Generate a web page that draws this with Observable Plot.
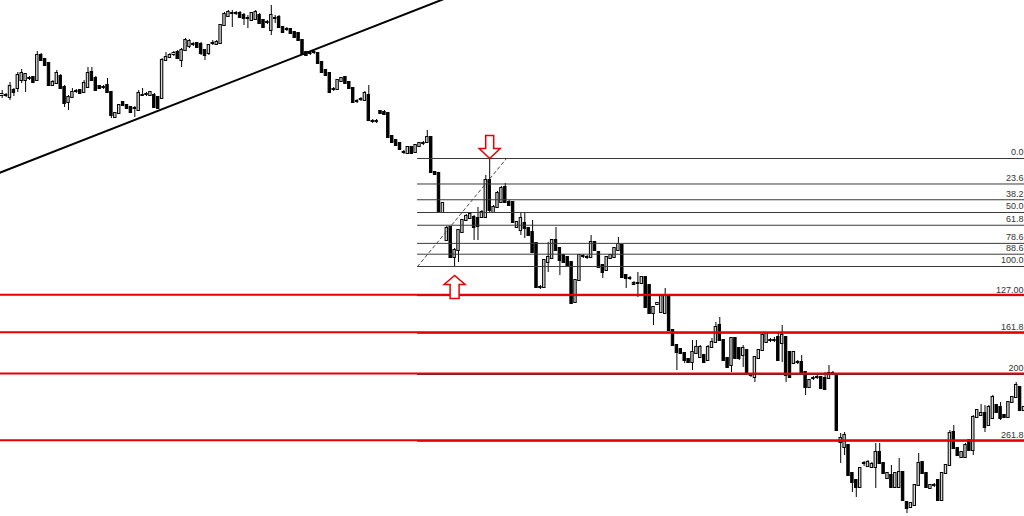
<!DOCTYPE html>
<html><head><meta charset="utf-8">
<script src="https://cdn.jsdelivr.net/npm/d3@7"></script>
<script src="https://cdn.jsdelivr.net/npm/@observablehq/plot@0.6"></script>
<style>html,body{margin:0;padding:0;background:#fff;overflow:hidden}</style>
</head><body><div id="chart"></div>
<script>
const open = [
421,421,419,426,428,436,436,438,439,436,
461,457,453,431,433,440,429,414,419,425,
426,424,429,444,438,430,429,431,424,399,
403,414,411,409,408,406,421,422,421,421,
419,418,456,459,462,464,456,466,470,472,
473,472,466,463,473,472,473,491,500,503,
503,503,501,498,496,497,501,496,494,486,
498,499,489,487,487,484,483,476,464,463,
464,463,454,446,443,427,427,435,439,434,
428,415,417,416,421,395,395,405,404,403,
380,376,373,364,363,369,364,370,373,374,
379,344,343,304,276,289,259,266,284,296,
298,299,298,299,299,336,304,309,314,329,
314,314,289,286,293,288,284,273,229,229,
254,258,276,268,261,259,254,214,236,260,
259,259,274,264,251,246,258,259,266,271,
241,238,233,233,233,239,231,203,212,204,
203,221,186,171,167,163,157,154,163,159,
161,156,169,174,191,176,158,151,178,168,
161,166,141,139,158,166,174,176,176,179,
173,179,164,153,154,154,144,129,138,139,
139,138,138,143,142,74,69,71,43,36,
29,53,50,49,49,64,53,38,41,29,
29,44,14,9,11,31,54,43,28,31,
36,16,43,51,84,68,59,59,76,66,
99,101,103,91,98,111,109,101,99,114,
119,129,106];
const high = [
426,423,434,428,444,447,443,440,440,465,
463,458,454,436,446,442,431,421,428,427,
427,436,449,449,440,431,431,438,425,404,
412,415,412,410,410,426,428,424,425,423,
420,458,464,463,465,466,468,478,477,474,
474,474,467,472,476,476,492,504,506,506,
505,505,503,501,504,506,503,497,496,511,
501,501,490,489,488,485,484,477,465,465,
466,464,455,447,444,429,437,439,440,435,
429,417,419,425,431,397,397,406,406,404,
381,377,374,366,370,370,372,374,375,386,
380,345,344,314,290,290,268,287,297,302,
304,301,309,306,341,358,311,325,330,333,
316,315,295,303,303,289,296,274,231,257,
274,277,289,269,262,260,255,237,262,262,
261,281,275,265,252,260,262,269,279,272,
242,240,235,244,240,240,232,210,214,222,
228,222,187,172,168,164,158,176,176,171,
162,171,178,194,199,177,159,179,179,169,
171,167,143,160,167,182,184,178,179,184,
191,180,165,165,156,161,145,137,140,141,
140,144,151,145,143,83,84,72,44,37,
49,55,56,54,73,73,54,44,51,44,
58,45,15,14,32,63,55,44,32,33,
37,44,52,86,91,69,65,73,77,101,
107,112,111,111,121,112,114,102,115,120,
134,130,110];
const low = [
418,419,416,420,424,433,424,436,433,435,
455,450,430,430,432,427,409,406,418,423,
422,423,428,435,425,427,427,423,398,398,
402,410,407,403,399,405,420,420,420,408,
407,417,455,458,460,457,449,465,468,470,
468,461,456,461,471,471,472,490,499,489,
501,498,491,488,495,496,492,488,492,481,
493,488,483,485,482,478,475,462,460,461,
462,452,443,440,423,425,426,434,432,427,
413,413,415,415,395,393,393,402,401,378,
373,370,366,362,362,362,363,369,371,373,
343,341,303,303,275,258,250,254,283,295,
297,276,276,298,298,304,303,308,313,313,
310,293,288,281,278,280,263,228,227,228,
244,257,265,241,253,250,212,213,235,258,
257,258,265,248,238,245,257,258,265,238,
228,236,231,219,232,208,202,191,211,203,
202,185,170,146,162,153,153,146,162,158,
153,155,168,173,175,155,148,144,157,156,
149,142,139,134,157,165,173,174,174,155,
154,134,138,152,152,142,121,128,136,137,
127,126,137,141,85,53,61,40,24,19,
28,50,49,48,28,52,42,37,28,28,
28,15,3,8,10,30,42,28,27,29,
15,15,42,50,67,60,58,58,65,61,
98,100,84,90,97,103,96,98,98,113,
118,105,105];
const close = [
422,421,430,424,441,443,442,438,434,461,
456,451,431,434,443,428,413,419,424,425,
423,433,443,436,426,428,429,424,401,403,
411,411,408,404,408,423,421,422,424,409,
408,456,459,461,463,458,466,476,475,472,
469,463,461,471,473,474,491,502,504,503,
503,499,498,498,503,504,493,489,494,501,
498,489,484,487,483,479,476,463,461,463,
464,453,444,441,424,427,436,438,433,428,
414,415,417,423,396,395,395,403,402,379,
374,371,367,364,369,363,371,373,373,379,
344,342,304,313,288,259,266,286,296,300,
302,289,290,304,336,306,309,323,328,314,
311,294,294,298,288,281,264,229,229,256,
259,276,266,256,254,251,213,236,261,260,
259,274,266,249,244,259,261,268,272,239,
238,238,232,233,239,209,203,209,213,221,
221,186,171,164,163,156,154,164,169,169,
154,169,174,189,176,156,149,178,158,158,
168,143,141,159,166,181,183,176,176,156,
181,141,139,164,154,143,129,136,138,139,
128,127,143,143,86,78,81,41,34,29,
48,53,54,52,64,53,43,43,29,43,
44,16,8,13,31,53,43,29,31,31,
16,43,51,83,68,61,64,71,66,99,
106,103,89,109,119,104,98,99,114,119,
131,106,109];

// Fibonacci tool anchors (candle indices) and levels
const swingHighIndex = 125;
const swingLowIndex = 116;
const fibStartIndex = 106.5;   // left end of fib lines / dashed diagonal
const fibEndIndex = 129.3;     // right end of the dashed diagonal
const fibLevels = [0, 23.6, 38.2, 50, 61.8, 78.6, 88.6, 100, 127, 161.8, 200, 261.8];
const fibLabels = ["0.0","23.6","38.2","50.0","61.8","78.6","88.6","100.0","127.00","161.8","200","261.8"];
const redLevels = [127, 161.8, 200, 261.8];
// hand-drawn trendline anchors (candle index, price)
const trendIdx = [-2, 114];
const trendPrice = [341.7, 518.6];

const xDomain = [-0.436, 262.13];

const candles = open.map((o, i) => ({i, o, h: high[i], l: low[i], c: close[i]}));
const swingHigh = high[swingHighIndex];
const swingLow = low[swingLowIndex];
const levelPrice = pct => swingHigh - pct / 100 * (swingHigh - swingLow);
const fibData = fibLevels.map((pct, k) => ({pct, p: levelPrice(pct), label: fibLabels[k]}));
const redData = redLevels.map(pct => ({pct, p: levelPrice(pct)}));
const trendData = trendIdx.map((i, k) => ({i, p: trendPrice[k]}));
const diagData = [{i: fibStartIndex, p: swingLow}, {i: fibEndIndex, p: swingHigh}];

const arrowDown = {draw(ctx) {
  ctx.moveTo(0, 0); ctx.lineTo(-10.5, -10); ctx.lineTo(-4, -10); ctx.lineTo(-4, -23);
  ctx.lineTo(4, -23); ctx.lineTo(4, -10); ctx.lineTo(10.5, -10); ctx.closePath();
}};
const arrowUp = {draw(ctx) {
  ctx.moveTo(0, 0); ctx.lineTo(-10.5, 9); ctx.lineTo(-4.5, 9); ctx.lineTo(-4.5, 23);
  ctx.lineTo(4.5, 23); ctx.lineTo(4.5, 9); ctx.lineTo(10.5, 9); ctx.closePath();
}};

const chart = Plot.plot({
  width: 1024, height: 516,
  margin: 0,
  style: {background: "#fff"},
  x: {type: "linear", domain: xDomain, axis: null},
  y: {type: "linear", domain: [0, 516], axis: null},
  marks: [
    Plot.ruleX(candles, {x: "i", y1: "l", y2: "h", stroke: "#000", strokeWidth: 1}),
    Plot.rect(candles, {
      x1: d => d.i - 0.31, x2: d => d.i + 0.31, y1: "o", y2: "c",
      insetTop: -0.5, insetBottom: -0.5,
      fill: d => d.c > d.o ? "#d4d4d4" : "#000", stroke: "#000", strokeWidth: 1
    }),
    Plot.ruleY(fibData, {y: "p", x1: fibStartIndex, x2: xDomain[1], stroke: "#3a3a3a", strokeWidth: 1}),
    Plot.ruleY(redData, {y: "p", stroke: "#e60000", strokeWidth: 2, dy: -1}),
    Plot.line(diagData, {x: "i", y: "p", stroke: "#444", strokeWidth: 1, strokeDasharray: "3,3"}),
    Plot.line(trendData, {x: "i", y: "p", stroke: "#000", strokeWidth: 2, clip: true}),
    Plot.dot([{i: swingHighIndex, p: swingHigh}], {x: "i", y: "p", symbol: arrowDown, r: 5, fill: "#fff", stroke: "#e60000", strokeWidth: 1.5}),
    Plot.dot([{i: swingLowIndex, p: swingLow}], {x: "i", y: "p", symbol: arrowUp, r: 5, dy: 9, fill: "#fff", stroke: "#e60000", strokeWidth: 1.5}),
    Plot.text(fibData, {y: "p", text: "label", frameAnchor: "right", textAnchor: "end", dx: -1, dy: -6,
      fontSize: 9, fill: "#333", fontFamily: "Liberation Sans, Arial, sans-serif"})
  ]
});
document.getElementById("chart").appendChild(chart);
</script>
</body></html>
